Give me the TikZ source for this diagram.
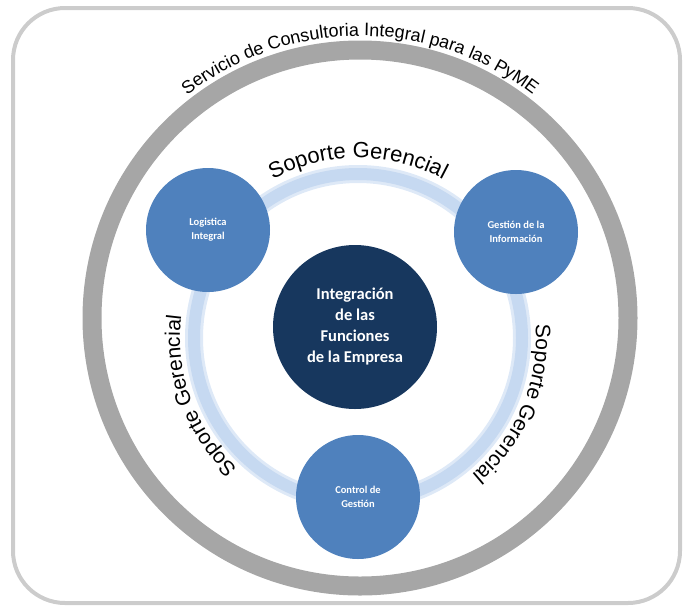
\documentclass[tikz,border=0pt]{standalone}
\usepackage{fontspec}
\setmainfont{Carlito}
\newfontfamily\arialfont{Liberation Sans}
\usetikzlibrary{decorations.text}

\definecolor{marco}{RGB}{204,204,204}
\definecolor{gris}{RGB}{166,166,166}
\definecolor{celeste}{RGB}{198,217,241}
\definecolor{celesteclaro}{RGB}{222,233,247}
\definecolor{azulmod}{RGB}{79,129,189}
\definecolor{azulnucleo}{RGB}{23,55,94}

\tikzset{
  modulo/.style={circle, fill=azulmod, minimum size=124pt, inner sep=0pt, align=center,
    text=white, font=\fontsize{10.5}{14}\selectfont\bfseries},
  nucleo/.style={circle, fill=azulnucleo, minimum size=164pt, inner sep=0pt, align=center,
    text=white, font=\fontsize{16.5}{21}\selectfont\bfseries},
  rotulo/.style={decorate, decoration={text along path, text align=center}}
}

\begin{document}
\begin{tikzpicture}[x=1pt,y=1pt]
    \useasboundingbox (0,0) rectangle (683,-606);
    \draw[marco, line width=4pt, rounded corners=52pt] (13,-8) rectangle (680,-603);

    % anillos
    \coordinate (cext) at (360,-318);
    \coordinate (cint) at (358,-338);
    \draw[gris, line width=19pt] (cext) circle[radius=268];
    \draw[celesteclaro, line width=18pt] (cint) circle[radius=164];
    \draw[celeste, line width=12pt] (cint) circle[radius=164];

    % circulos
    \node (core) [nucleo] at (355,-327) {Integración\\de las\\Funciones\\de la Empresa};
    \node (logistica) [modulo] at (208,-230) {Logistica\\Integral};
    \node (gestion) [modulo] at (516,-232) {Gestión de la\\Información};
    \node (control) [modulo] at (358,-497) {Control de\\Gestión};

    % textos curvos
    \path[rotulo, decoration={text={|\arialfont\fontsize{18}{18}\selectfont|Servicio de Consultoria Integral para las PyME}}]
        (cext) ++(150:282) arc[start angle=150, end angle=30, radius=282];
    \path[rotulo, decoration={text={|\arialfont\fontsize{22}{22}\selectfont|Soporte Gerencial}}]
        (cint) ++(145:180) arc[start angle=145, end angle=35, radius=180];
    \path[rotulo, decoration={text={|\arialfont\fontsize{21}{21}\selectfont|Soporte Gerencial}}]
        (cint) ++(32:178) arc[start angle=32, end angle=-78, radius=178];
    \path[rotulo, decoration={text={|\arialfont\fontsize{21}{21}\selectfont|Soporte Gerencial}}]
        (cint) ++(255:178) arc[start angle=255, end angle=145, radius=178];
\end{tikzpicture}
\end{document}
